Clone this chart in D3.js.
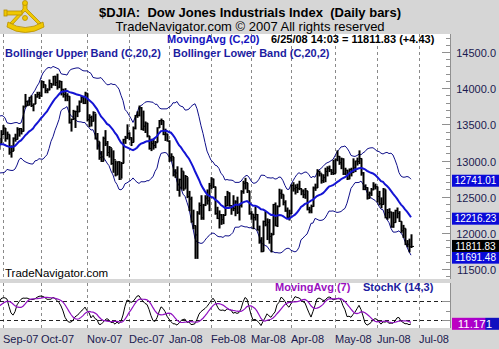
<!DOCTYPE html>
<html><head><meta charset="utf-8">
<script src="https://cdn.jsdelivr.net/npm/d3@7"></script>
<style>html,body{margin:0;padding:0;background:#d6d6d6;}svg{display:block;font-family:"Liberation Sans",Arial,sans-serif;}</style>
</head><body><svg id="c" width="499" height="349"></svg>
<script>
// ---- DATA (daily bars, Aug-2007 .. 25-Jun-2008) ----
const closes = [
// Aug-07
13362,13463,13182,13468,13504,13658,13271,13240,13237,13029,12861,12846,13079,13121,13090,13236,13236,13379,13322,13041,13289,13238,13358,
// Sep-07
13449,13306,13363,13113,13127,13308,13292,13425,13442,13403,13739,13815,13767,13821,13759,13779,13878,13912,13896,
// Oct-07
14088,14047,13968,13975,14066,14044,14165,14079,14015,14093,13985,13912,13893,13889,13522,13566,13676,13676,13672,13807,13870,13792,13930,
// Nov-07
13567,13595,13543,13661,13300,13266,13043,12988,13307,13231,13110,13177,12958,13010,12799,12981,12743,12958,13289,13311,13372,
// Dec-07
13315,13249,13445,13620,13625,13727,13433,13474,13518,13340,13167,13232,13207,13246,13451,13550,13552,13359,13366,13265,
// Jan-08
13044,13057,12800,12827,12589,12736,12853,12607,12778,12501,12467,12159,12100,11971,12271,12378,12207,12384,12480,12443,12650,
// Feb-08
12744,12636,12266,12200,12248,12182,12240,12374,12552,12377,12348,12337,12428,12285,12381,12570,12685,12694,12582,12266,
// Mar-08
12258,12213,12254,12040,11894,11740,12156,12111,12146,11951,11972,12392,12099,12361,12548,12533,12422,12302,12216,12263,
// Apr-08
12654,12608,12626,12610,12612,12577,12527,12581,12326,12303,12363,12620,12620,12849,12825,12721,12763,12849,12892,12871,12832,12820,
// May-08
13010,13058,12970,13021,12814,12866,12745,12876,12832,12898,12992,12986,13028,12828,12601,12625,12479,12548,12594,12647,12638,
// Jun-08
12503,12402,12391,12604,12210,12280,12289,12083,12141,12307,12269,12160,12029,12063,11843,11842,11807,11812
];
const highs = [
13400,13490,13480,13490,13580,13700,13650,13290,13400,13270,13090,12880,13140,13160,13170,13260,13320,13390,13380,13320,13300,13310,13420,
13490,13450,13400,13360,13210,13320,13370,13460,13450,13440,13760,13920,13830,13880,13900,13790,13920,13950,13950,
14110,14100,14050,14000,14120,14070,14170,14170,14200,14110,14100,13990,14000,13930,13890,13580,13700,13690,13760,13830,13900,13870,13950,
13930,13640,13620,13680,13650,13380,13260,13130,13330,13420,13270,13200,13170,13140,13000,12990,12990,12980,13300,13340,13500,
13390,13320,13470,13630,13680,13760,13740,13690,13540,13520,13340,13300,13300,13270,13460,13560,13580,13550,13440,13370,
13280,13100,13050,12880,12920,12750,12900,12850,12800,12770,12580,12500,12320,12100,12300,12420,12520,12400,12520,12600,12690,
12770,12750,12640,12360,12310,12260,12260,12510,12580,12560,12380,12520,12450,12500,12400,12590,12720,12760,12690,12580,
12300,12260,12360,12260,12100,11940,12170,12300,12200,12190,12000,12400,12420,12380,12610,12600,12530,12450,12350,12320,
12670,12700,12670,12680,12720,12610,12600,12620,12580,12360,12390,12640,12680,12880,12860,12820,12810,12900,12920,12930,12880,13010,
13030,13140,13060,13040,13030,12900,12870,12890,12900,13030,13000,13040,13140,13030,12840,12670,12630,12570,12620,12700,12680,
12640,12580,12490,12620,12600,12330,12340,12290,12290,12320,12350,12300,12160,12110,12060,11900,11920,11980
];
const lows = [
13130,13330,13160,13090,13390,13500,13260,12990,13210,13010,12840,12520,12810,12990,13030,13090,13190,13200,13290,13030,13030,13150,13240,
13350,13260,13290,13080,13040,13130,13260,13290,13330,13360,13400,13740,13750,13760,13740,13680,13780,13870,13850,
13880,14000,13930,13930,13970,14000,14040,14030,13980,14000,13900,13870,13820,13820,13510,13400,13560,13450,13600,13670,13800,13780,13780,
13540,13460,13470,13540,13290,13150,13010,12980,12990,13200,13060,13040,12940,12830,12780,12800,12730,12750,12960,13230,13300,
13280,13200,13250,13430,13590,13610,13420,13410,13380,13320,13150,13130,13150,13170,13250,13450,13490,13350,13270,13260,
12980,12990,12780,12760,12580,12500,12600,12580,12610,12480,12300,12140,12050,11640,11640,12250,12180,12180,12370,12390,12300,
12600,12620,12250,12190,12060,12110,12120,12240,12370,12360,12250,12300,12230,12260,12170,12350,12540,12600,12550,12250,
12180,12050,12170,12030,11850,11730,11740,12090,11900,11850,11730,11970,12090,12080,12360,12470,12380,12290,12200,12170,
12260,12570,12530,12550,12590,12520,12480,12470,12310,12270,12270,12360,12580,12620,12780,12680,12690,12700,12780,12840,12800,12800,
12820,12990,12940,12880,12800,12800,12730,12740,12780,12830,12840,12930,12950,12790,12590,12590,12460,12470,12510,12590,12600,
12420,12380,12340,12390,12200,12180,12200,12070,12070,12140,12200,12150,12000,11930,11830,11800,11730,11790
];
const firstShownIndex = 23; // 4-Sep-2007 (first trading day of Sep-07)
const monthLabels = ['Sep-07','Oct-07','Nov-07','Dec-07','Jan-08','Feb-08','Mar-08','Apr-08','May-08','Jun-08','Jul-08'];
const monthTradingDays = [19,23,21,20,21,20,20,22,21,21];
const priceTicks = [11500,12000,12500,13000,13500,14000,14500];
const stochLevels = [20,80];
const lastValueLabels = [12741.01, 12216.23, 11691.48, 11811.83];
const lastValueColors = ['#0a0ad8','#0a0ad8','#0a0ad8','#000000'];
const stochLastLabel = 11.171;

// ---- INDICATORS (as named in the legend) ----
function sma(arr, n){ return arr.map((v,i)=> i<n-1||arr.slice(i-n+1,i+1).some(x=>x==null) ? null : d3.mean(arr.slice(i-n+1,i+1))); }
const ma20 = sma(closes,20);
const sd20 = closes.map((v,i)=> i<19 ? null : Math.sqrt(d3.mean(closes.slice(i-19,i+1), x=>(x-ma20[i])**2)));
const upper = ma20.map((m,i)=> m==null?null:m+2*sd20[i]);
const lower = ma20.map((m,i)=> m==null?null:m-2*sd20[i]);
const rawK = closes.map((c,i)=>{ if(i<13) return null; const hh=d3.max(highs.slice(i-13,i+1)), ll=d3.min(lows.slice(i-13,i+1)); return (c-ll)/(hh-ll)*100; });
const stochK = sma(rawK,3);
const stochMA = sma(stochK,7);

// ---- LAYOUT ----
const svg = d3.select('#c');
const W=499, H=349, plotL=0, plotR=450, mainT=34, mainB=279, stT=283, stB=328;
const x = d3.scaleLinear().domain([0,208]).range([3,419]);
const xi = i => x(i-firstShownIndex);
const y = d3.scaleLinear().domain([11500,14500]).range([269,52]);
const ys = d3.scaleLinear().domain([20,80]).range([320,301]);

svg.append('rect').attr('width',W).attr('height',H).attr('fill','#d6d6d6');
svg.append('rect').attr('x',plotL).attr('y',mainT).attr('width',plotR-plotL).attr('height',mainB-mainT).attr('fill','#fff');
svg.append('rect').attr('x',plotL).attr('y',stT).attr('width',plotR-plotL).attr('height',stB-stT).attr('fill','#fff');

const defs = svg.append('defs');
defs.append('clipPath').attr('id','cm').append('rect').attr('x',plotL).attr('y',mainT).attr('width',plotR-plotL).attr('height',mainB-mainT);
defs.append('clipPath').attr('id','cs').append('rect').attr('x',plotL).attr('y',stT).attr('width',plotR-plotL).attr('height',stB-stT);
const g1 = defs.append('linearGradient').attr('id','mg').attr('x1','0').attr('x2','1');
g1.append('stop').attr('offset','0').attr('stop-color','#c000c0');
g1.append('stop').attr('offset','0.7').attr('stop-color','#a000d0');
g1.append('stop').attr('offset','0.72').attr('stop-color','#1010c0');
g1.append('stop').attr('offset','1').attr('stop-color','#1010c0');

// month positions
const monthIdx = [0]; monthTradingDays.forEach(d=>monthIdx.push(monthIdx[monthIdx.length-1]+d));

// vertical dashed grid
[[mainT,mainB],[stT,stB]].forEach(([t,b])=>{
  svg.append('g').selectAll('line').data(monthIdx).join('line')
    .attr('x1',d=>Math.round(x(d))+0.5).attr('x2',d=>Math.round(x(d))+0.5).attr('y1',t).attr('y2',b)
    .attr('stroke','#8a8a8a').attr('stroke-dasharray','3,3').attr('stroke-width',1);
});
// stoch horizontal dashed levels
svg.append('g').selectAll('line').data(stochLevels).join('line')
  .attr('x1',plotL).attr('x2',plotR).attr('y1',d=>Math.round(ys(d))+0.5).attr('y2',d=>Math.round(ys(d))+0.5)
  .attr('stroke','#222').attr('stroke-dasharray','4,3');

// main marks
const gm = svg.append('g').attr('clip-path','url(#cm)');
const idx = d3.range(closes.length);
const lineGen = arr => d3.line().defined(i=>arr[i]!=null).x(i=>xi(i)).y(i=>y(arr[i]));
gm.append('path').attr('d',lineGen(upper)(idx)).attr('fill','none').attr('stroke','#10108a').attr('stroke-width',1);
gm.append('path').attr('d',lineGen(lower)(idx)).attr('fill','none').attr('stroke','#10108a').attr('stroke-width',1);
gm.append('g').selectAll('line').data(idx).join('line')
  .attr('x1',i=>xi(i)+0.5).attr('x2',i=>xi(i)+0.5).attr('y1',i=>y(highs[i])).attr('y2',i=>y(lows[i]))
  .attr('stroke','#000').attr('stroke-width',2);
gm.append('g').selectAll('line').data(idx).join('line')
  .attr('x1',i=>xi(i)+1).attr('x2',i=>xi(i)+3).attr('y1',i=>y(closes[i])).attr('y2',i=>y(closes[i]))
  .attr('stroke','#000').attr('stroke-width',1);
gm.append('path').attr('d',lineGen(ma20)(idx)).attr('fill','none').attr('stroke','#1414d4').attr('stroke-width',2);

// stoch marks
const gs = svg.append('g').attr('clip-path','url(#cs)');
const sLine = arr => d3.line().defined(i=>arr[i]!=null).x(i=>xi(i)).y(i=>ys(arr[i]));
gs.append('path').attr('d',sLine(stochK)(idx)).attr('fill','none').attr('stroke','#000').attr('stroke-width',1);
gs.append('path').attr('d',sLine(stochMA)(idx)).attr('fill','none').attr('stroke','#9010c0').attr('stroke-width',1.2);

// right axis (main)
const ax = svg.append('g');
ax.append('line').attr('x1',plotR+0.5).attr('x2',plotR+0.5).attr('y1',mainT).attr('y2',mainB).attr('stroke','#909090');
ax.append('line').attr('x1',plotR+0.5).attr('x2',plotR+0.5).attr('y1',stT).attr('y2',stB).attr('stroke','#909090');
const minor = d3.range(11400,14800,100).filter(v=>y(v)>=mainT&&y(v)<=mainB);
ax.selectAll('line.mn').data(minor).join('line').attr('class','mn')
  .attr('x1',d=>d%500===0?plotR-8:plotR-4).attr('x2',plotR).attr('y1',d=>Math.round(y(d))+0.5).attr('y2',d=>Math.round(y(d))+0.5)
  .attr('stroke','#909090');
ax.selectAll('text.tk').data(priceTicks).join('text').attr('class','tk')
  .attr('x',496).attr('y',d=>y(d)+5).attr('text-anchor','end').attr('font-size',11).attr('fill','#1a1a50')
  .text(d=>d.toFixed(1));
ax.selectAll('line.st').data([20,50,80]).join('line').attr('class','st')
  .attr('x1',d=>d===50?plotR-4:plotR-8).attr('x2',plotR).attr('y1',d=>Math.round(ys(d))+0.5).attr('y2',d=>Math.round(ys(d))+0.5)
  .attr('stroke','#909090');

// last value boxes (the lower-band box sits just under the last-close box)
const lv = svg.append('g');
const boxOffsets = [1.5, 1.5, 2.5, -0.5];
lastValueLabels.forEach((v,k)=>{
  const cy = y(v)+boxOffsets[k];
  lv.append('rect').attr('x',452).attr('y',cy-6).attr('width',47).attr('height',12).attr('fill',lastValueColors[k]);
  lv.append('text').attr('x',475.5).attr('y',cy+3.6).attr('text-anchor','middle').attr('font-size',10).attr('fill','#fff').text(v.toFixed(2));
});
const scy = ys(stochLastLabel)+1;
lv.append('rect').attr('x',452).attr('y',scy-6).attr('width',47).attr('height',12).attr('fill','url(#mg)');
lv.append('text').attr('x',475).attr('y',scy+4).attr('text-anchor','middle').attr('font-size',11.5).attr('fill','#fff').text(stochLastLabel.toFixed(3));

// x axis labels
svg.append('g').selectAll('text').data(monthIdx.map((d,k)=>({d,k}))).join('text')
  .attr('x',o=>x(o.d)).attr('y',343).attr('font-size',11).attr('fill','#1a1a50').text(o=>monthLabels[o.k]);

// titles & legends
svg.append('text').attr('x',250).attr('y',17).attr('text-anchor','middle').attr('font-size',13).attr('font-weight','bold')
  .attr('xml:space','preserve').style('white-space','pre').text('$DJIA:  Dow Jones Industrials Index  (Daily bars)');
svg.append('text').attr('x',250).attr('y',31).attr('text-anchor','middle').attr('font-size',13).text('TradeNavigator.com © 2007 All rights reserved');
const leg = [
  {t:'MovingAvg (C,20)', x:167, y:43, c:'#1414c0'},
  {t:'6/25/08 14:03 = 11811.83 (+4.43)', x:271, y:43, c:'#000'},
  {t:'Bollinger Upper Band (C,20,2)', x:5, y:57, c:'#1c1ca0'},
  {t:'Bollinger Lower Band (C,20,2)', x:173, y:57, c:'#1c1ca0'},
  {t:'MovingAvg (7)', x:275, y:291, c:'#9a10c0'},
  {t:'StochK (14,3)', x:363, y:291, c:'#1c1ca0'}
];
svg.append('g').selectAll('text').data(leg).join('text').attr('x',d=>d.x).attr('y',d=>d.y)
  .attr('font-size',11).attr('font-weight','bold').attr('fill',d=>d.c).text(d=>d.t);
svg.append('text').attr('x',5).attr('y',277).attr('font-size',11.5).attr('fill','#000').text('TradeNavigator.com');

// logo (sextant)
const lg = svg.append('g').attr('fill','#f0c800').attr('stroke','#b89000').attr('stroke-width',0.8);
lg.append('path').attr('d','M8,22 Q25,33 43,22 L44,27 Q25,38 7,27 Z');
lg.append('path').attr('d','M23,4 L27,4 L27,9 L41,23 L38,24 L25,11 L13,24 L10,23 L23,9 Z');
lg.append('rect').attr('x',5).attr('y',11).attr('width',17).attr('height',4);
lg.append('rect').attr('x',4).attr('y',10).attr('width',3).attr('height',6);
lg.append('circle').attr('cx',25).attr('cy',3).attr('r',2.5);
lg.append('circle').attr('cx',25).attr('cy',18).attr('r',2.5);
</script></body></html>
